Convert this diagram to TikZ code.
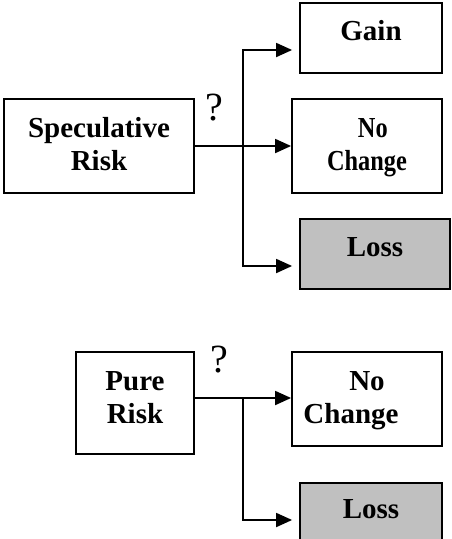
\documentclass[tikz,border=0pt]{standalone}
\usepackage{fontspec}
\setmainfont{Liberation Serif}
\usepackage{graphicx}
\usetikzlibrary{arrows.meta}
\definecolor{lossgray}{RGB}{192,192,192}
% two centred lines whose baseline is the first line
\newcommand\twolines[2]{\begin{tabular}[t]{@{}c@{}}#1\\#2\end{tabular}}
\begin{document}
\begin{tikzpicture}[x=1pt,y=-1pt,
  box/.style={draw, line width=1.8pt, inner sep=0pt,
    font=\bfseries\fontsize{29}{33}\selectfont},
  lossbox/.style={box, fill=lossgray},
  link/.style={line width=1.8pt, -{Triangle[length=16pt,width=14pt]}},
  query/.style={inner sep=0pt, font=\fontsize{40}{44}\selectfont}]
\clip (0,0) rectangle (452,539);

% speculative risk
\node[box, minimum width=190pt, minimum height=94pt, text height=0pt, text depth=18pt]
  (spec) at (99,146) {\twolines{Speculative}{Risk}};
\node[box, minimum width=142pt, minimum height=70pt, text height=4pt, text depth=0pt]
  (gain) at (371,38) {Gain};
\node[box, minimum width=150pt, minimum height=94pt, text height=0pt, text depth=18pt]
  (nct) at (367,146) {\scalebox{0.84}[1]{\twolines{\kern14pt No}{Change}}};
\node[lossbox, minimum width=150pt, minimum height=70pt, text height=4pt, text depth=0pt]
  (losst) at (375,254) {Loss};
\node[query] (q1) at (214,108) {?};

\coordinate (jt) at (243,146);
\draw[link] (spec.east) -- (nct.west);
\draw[link, shorten >=7pt] (jt) |- ([yshift=-12pt]gain.west);
\draw[link, shorten >=7pt] (jt) |- ([yshift=-12pt]losst.west);

% pure risk
\node[box, minimum width=118pt, minimum height=102pt, text height=0pt, text depth=26pt]
  (pure) at (135,403) {\twolines{Pure}{Risk}};
\node[box, minimum width=150pt, minimum height=94pt, text height=0pt, text depth=18pt]
  (ncb) at (367,399) {\twolines{No}{Change\kern32pt}};
\node[lossbox, minimum width=142pt, minimum height=70pt, text height=0pt, text depth=0pt]
  (lossb) at (371,518) {Loss};
\node[query] (q2) at (219.5,360) {?};

\coordinate (pb) at ([yshift=5pt]pure.east);
\coordinate (jb) at (243,398);
\draw[link] (pb) -- (pb -| ncb.west);
\draw[link, shorten >=7pt] (jb) |- ([yshift=-2pt]lossb.west);
\end{tikzpicture}
\end{document}
